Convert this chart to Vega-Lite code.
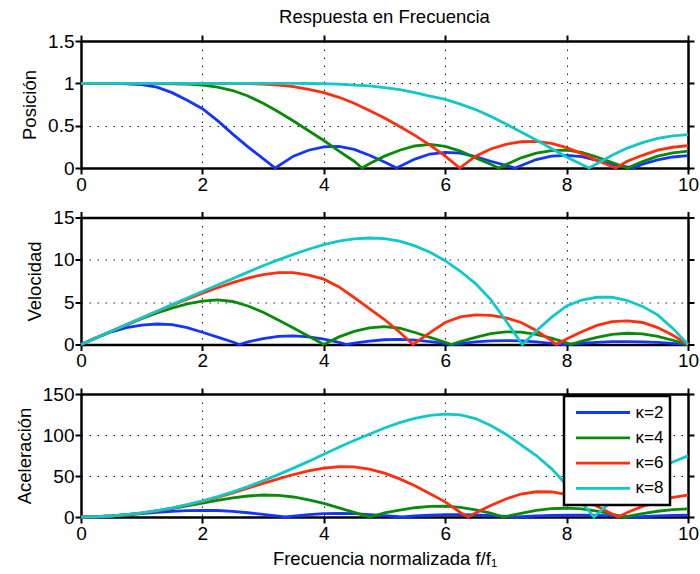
{
  "$schema": "https://vega.github.io/schema/vega-lite/v6.json",
  "bounds": "flush",
  "spacing": 49.5,
  "padding": {"left": 15, "top": 7, "right": 2, "bottom": 0},
  "config": {
    "font": "Liberation Sans",
    "view": {"stroke": null},
    "axis": {
      "domainColor": "black", "domainWidth": 2.5,
      "tickColor": "black", "tickWidth": 2, "tickSize": 6,
      "labelColor": "black", "labelFontSize": 19, "labelFont": "Liberation Sans", "labelPadding": 1,
      "labelFlush": false, "labelOverlap": false,
      "titleFont": "Liberation Sans", "titleFontSize": 18.5, "titleFontWeight": "normal", "titleColor": "black", "titlePadding": 8,
      "gridColor": "black", "gridDash": [1.5, 6.5], "gridWidth": 1, "gridOpacity": 0.9
    },
    "title": {"font": "Liberation Sans", "fontSize": 18.5, "fontWeight": "normal", "color": "black"},
    "legend": {"strokeWidth": 2.5}
  },
  "datasets": {
    "pos": [
      {"f":0,"y":1,"k":"κ=2"},{"f":0.25,"y":1,"k":"κ=2"},{"f":0.5,"y":1,"k":"κ=2"},{"f":0.75,"y":0.995,"k":"κ=2"},{"f":1,"y":0.985,"k":"κ=2"},{"f":1.25,"y":0.955,"k":"κ=2"},{"f":1.5,"y":0.89,"k":"κ=2"},{"f":1.75,"y":0.8,"k":"κ=2"},{"f":2,"y":0.7,"k":"κ=2"},{"f":2.25,"y":0.56,"k":"κ=2"},{"f":2.5,"y":0.4,"k":"κ=2"},{"f":2.75,"y":0.25,"k":"κ=2"},{"f":3,"y":0.11,"k":"κ=2"},{"f":3.2,"y":0,"k":"κ=2"},{"f":3.5,"y":0.14,"k":"κ=2"},{"f":3.75,"y":0.21,"k":"κ=2"},{"f":4,"y":0.25,"k":"κ=2"},{"f":4.25,"y":0.255,"k":"κ=2"},{"f":4.5,"y":0.22,"k":"κ=2"},{"f":4.75,"y":0.15,"k":"κ=2"},{"f":5,"y":0.07,"k":"κ=2"},{"f":5.2,"y":0,"k":"κ=2"},{"f":5.5,"y":0.105,"k":"κ=2"},{"f":5.75,"y":0.165,"k":"κ=2"},{"f":6,"y":0.185,"k":"κ=2"},{"f":6.25,"y":0.175,"k":"κ=2"},{"f":6.5,"y":0.135,"k":"κ=2"},{"f":6.75,"y":0.08,"k":"κ=2"},{"f":7,"y":0.03,"k":"κ=2"},{"f":7.15,"y":0,"k":"κ=2"},{"f":7.5,"y":0.1,"k":"κ=2"},{"f":7.75,"y":0.14,"k":"κ=2"},{"f":8,"y":0.15,"k":"κ=2"},{"f":8.25,"y":0.135,"k":"κ=2"},{"f":8.5,"y":0.09,"k":"κ=2"},{"f":8.75,"y":0.04,"k":"κ=2"},{"f":9.1,"y":0,"k":"κ=2"},{"f":9.25,"y":0.045,"k":"κ=2"},{"f":9.5,"y":0.095,"k":"κ=2"},{"f":9.75,"y":0.13,"k":"κ=2"},{"f":10,"y":0.146,"k":"κ=2"},

      {"f":0,"y":1,"k":"κ=4"},{"f":0.5,"y":1,"k":"κ=4"},{"f":1,"y":1,"k":"κ=4"},{"f":1.25,"y":0.998,"k":"κ=4"},{"f":1.5,"y":0.995,"k":"κ=4"},{"f":1.75,"y":0.99,"k":"κ=4"},{"f":2,"y":0.98,"k":"κ=4"},{"f":2.25,"y":0.955,"k":"κ=4"},{"f":2.5,"y":0.915,"k":"κ=4"},{"f":2.75,"y":0.85,"k":"κ=4"},{"f":3,"y":0.765,"k":"κ=4"},{"f":3.25,"y":0.665,"k":"κ=4"},{"f":3.5,"y":0.555,"k":"κ=4"},{"f":3.75,"y":0.44,"k":"κ=4"},{"f":4,"y":0.325,"k":"κ=4"},{"f":4.25,"y":0.2,"k":"κ=4"},{"f":4.5,"y":0.08,"k":"κ=4"},{"f":4.63,"y":0,"k":"κ=4"},{"f":4.75,"y":0.05,"k":"κ=4"},{"f":5,"y":0.14,"k":"κ=4"},{"f":5.25,"y":0.21,"k":"κ=4"},{"f":5.5,"y":0.26,"k":"κ=4"},{"f":5.75,"y":0.28,"k":"κ=4"},{"f":6,"y":0.255,"k":"κ=4"},{"f":6.25,"y":0.2,"k":"κ=4"},{"f":6.5,"y":0.12,"k":"κ=4"},{"f":6.75,"y":0.045,"k":"κ=4"},{"f":6.88,"y":0,"k":"κ=4"},{"f":7,"y":0.04,"k":"κ=4"},{"f":7.25,"y":0.12,"k":"κ=4"},{"f":7.5,"y":0.175,"k":"κ=4"},{"f":7.75,"y":0.205,"k":"κ=4"},{"f":8,"y":0.21,"k":"κ=4"},{"f":8.25,"y":0.185,"k":"κ=4"},{"f":8.5,"y":0.13,"k":"κ=4"},{"f":8.75,"y":0.065,"k":"κ=4"},{"f":9,"y":0,"k":"κ=4"},{"f":9.25,"y":0.075,"k":"κ=4"},{"f":9.5,"y":0.14,"k":"κ=4"},{"f":9.75,"y":0.18,"k":"κ=4"},{"f":10,"y":0.2,"k":"κ=4"},

      {"f":0,"y":1,"k":"κ=6"},{"f":1,"y":1,"k":"κ=6"},{"f":2,"y":1,"k":"κ=6"},{"f":2.5,"y":1,"k":"κ=6"},{"f":2.75,"y":0.998,"k":"κ=6"},{"f":3,"y":0.99,"k":"κ=6"},{"f":3.25,"y":0.978,"k":"κ=6"},{"f":3.5,"y":0.96,"k":"κ=6"},{"f":3.75,"y":0.93,"k":"κ=6"},{"f":4,"y":0.89,"k":"κ=6"},{"f":4.25,"y":0.835,"k":"κ=6"},{"f":4.5,"y":0.765,"k":"κ=6"},{"f":4.75,"y":0.68,"k":"κ=6"},{"f":5,"y":0.59,"k":"κ=6"},{"f":5.25,"y":0.49,"k":"κ=6"},{"f":5.5,"y":0.385,"k":"κ=6"},{"f":5.75,"y":0.27,"k":"κ=6"},{"f":6,"y":0.14,"k":"κ=6"},{"f":6.24,"y":0,"k":"κ=6"},{"f":6.5,"y":0.14,"k":"κ=6"},{"f":6.75,"y":0.225,"k":"κ=6"},{"f":7,"y":0.28,"k":"κ=6"},{"f":7.25,"y":0.31,"k":"κ=6"},{"f":7.5,"y":0.315,"k":"κ=6"},{"f":7.75,"y":0.29,"k":"κ=6"},{"f":8,"y":0.24,"k":"κ=6"},{"f":8.25,"y":0.17,"k":"κ=6"},{"f":8.5,"y":0.09,"k":"κ=6"},{"f":8.81,"y":0,"k":"κ=6"},{"f":9,"y":0.08,"k":"κ=6"},{"f":9.25,"y":0.15,"k":"κ=6"},{"f":9.5,"y":0.21,"k":"κ=6"},{"f":9.75,"y":0.245,"k":"κ=6"},{"f":10,"y":0.265,"k":"κ=6"},

      {"f":0,"y":1,"k":"κ=8"},{"f":1,"y":1,"k":"κ=8"},{"f":2,"y":1,"k":"κ=8"},{"f":3,"y":1,"k":"κ=8"},{"f":3.5,"y":1,"k":"κ=8"},{"f":3.75,"y":0.998,"k":"κ=8"},{"f":4,"y":0.995,"k":"κ=8"},{"f":4.25,"y":0.99,"k":"κ=8"},{"f":4.5,"y":0.98,"k":"κ=8"},{"f":4.75,"y":0.97,"k":"κ=8"},{"f":5,"y":0.95,"k":"κ=8"},{"f":5.25,"y":0.925,"k":"κ=8"},{"f":5.5,"y":0.89,"k":"κ=8"},{"f":5.75,"y":0.85,"k":"κ=8"},{"f":6,"y":0.81,"k":"κ=8"},{"f":6.25,"y":0.755,"k":"κ=8"},{"f":6.5,"y":0.69,"k":"κ=8"},{"f":6.75,"y":0.61,"k":"κ=8"},{"f":7,"y":0.52,"k":"κ=8"},{"f":7.25,"y":0.425,"k":"κ=8"},{"f":7.5,"y":0.33,"k":"κ=8"},{"f":7.75,"y":0.23,"k":"κ=8"},{"f":8,"y":0.13,"k":"κ=8"},{"f":8.25,"y":0.04,"k":"κ=8"},{"f":8.37,"y":0,"k":"κ=8"},{"f":8.5,"y":0.05,"k":"κ=8"},{"f":8.75,"y":0.15,"k":"κ=8"},{"f":9,"y":0.235,"k":"κ=8"},{"f":9.25,"y":0.3,"k":"κ=8"},{"f":9.5,"y":0.35,"k":"κ=8"},{"f":9.75,"y":0.38,"k":"κ=8"},{"f":10,"y":0.395,"k":"κ=8"}
    ],
    "vel": [
      {"f":0,"y":0,"k":"κ=2"},{"f":0.25,"y":0.78,"k":"κ=2"},{"f":0.5,"y":1.5,"k":"κ=2"},{"f":0.75,"y":2.0,"k":"κ=2"},{"f":1,"y":2.28,"k":"κ=2"},{"f":1.25,"y":2.42,"k":"κ=2"},{"f":1.5,"y":2.35,"k":"κ=2"},{"f":1.75,"y":2.0,"k":"κ=2"},{"f":2,"y":1.45,"k":"κ=2"},{"f":2.25,"y":0.88,"k":"κ=2"},{"f":2.5,"y":0.3,"k":"κ=2"},{"f":2.61,"y":0,"k":"κ=2"},{"f":2.75,"y":0.3,"k":"κ=2"},{"f":3,"y":0.7,"k":"κ=2"},{"f":3.25,"y":0.95,"k":"κ=2"},{"f":3.5,"y":1.02,"k":"κ=2"},{"f":3.75,"y":0.9,"k":"κ=2"},{"f":4,"y":0.63,"k":"κ=2"},{"f":4.25,"y":0.25,"k":"κ=2"},{"f":4.38,"y":0,"k":"κ=2"},{"f":4.5,"y":0.15,"k":"κ=2"},{"f":4.75,"y":0.4,"k":"κ=2"},{"f":5,"y":0.56,"k":"κ=2"},{"f":5.25,"y":0.6,"k":"κ=2"},{"f":5.5,"y":0.52,"k":"κ=2"},{"f":5.75,"y":0.35,"k":"κ=2"},{"f":6,"y":0.1,"k":"κ=2"},{"f":6.1,"y":0,"k":"κ=2"},{"f":6.25,"y":0.1,"k":"κ=2"},{"f":6.5,"y":0.3,"k":"κ=2"},{"f":6.75,"y":0.42,"k":"κ=2"},{"f":7,"y":0.46,"k":"κ=2"},{"f":7.25,"y":0.42,"k":"κ=2"},{"f":7.5,"y":0.3,"k":"κ=2"},{"f":7.75,"y":0.13,"k":"κ=2"},{"f":7.95,"y":0,"k":"κ=2"},{"f":8.25,"y":0.15,"k":"κ=2"},{"f":8.5,"y":0.26,"k":"κ=2"},{"f":8.75,"y":0.33,"k":"κ=2"},{"f":9,"y":0.35,"k":"κ=2"},{"f":9.25,"y":0.32,"k":"κ=2"},{"f":9.5,"y":0.24,"k":"κ=2"},{"f":9.75,"y":0.13,"k":"κ=2"},{"f":10,"y":0,"k":"κ=2"},

      {"f":0,"y":0,"k":"κ=4"},{"f":0.25,"y":0.785,"k":"κ=4"},{"f":0.5,"y":1.56,"k":"κ=4"},{"f":0.75,"y":2.32,"k":"κ=4"},{"f":1,"y":3.06,"k":"κ=4"},{"f":1.25,"y":3.72,"k":"κ=4"},{"f":1.5,"y":4.3,"k":"κ=4"},{"f":1.75,"y":4.8,"k":"κ=4"},{"f":2,"y":5.13,"k":"κ=4"},{"f":2.25,"y":5.27,"k":"κ=4"},{"f":2.5,"y":5.08,"k":"κ=4"},{"f":2.75,"y":4.55,"k":"κ=4"},{"f":3,"y":3.8,"k":"κ=4"},{"f":3.25,"y":2.9,"k":"κ=4"},{"f":3.5,"y":1.95,"k":"κ=4"},{"f":3.75,"y":0.98,"k":"κ=4"},{"f":4,"y":0,"k":"κ=4"},{"f":4.25,"y":0.9,"k":"κ=4"},{"f":4.5,"y":1.55,"k":"κ=4"},{"f":4.75,"y":1.97,"k":"κ=4"},{"f":5,"y":2.12,"k":"κ=4"},{"f":5.25,"y":1.92,"k":"κ=4"},{"f":5.5,"y":1.42,"k":"κ=4"},{"f":5.75,"y":0.85,"k":"κ=4"},{"f":6,"y":0.27,"k":"κ=4"},{"f":6.1,"y":0,"k":"κ=4"},{"f":6.25,"y":0.35,"k":"κ=4"},{"f":6.5,"y":0.85,"k":"κ=4"},{"f":6.75,"y":1.28,"k":"κ=4"},{"f":7,"y":1.5,"k":"κ=4"},{"f":7.25,"y":1.45,"k":"κ=4"},{"f":7.5,"y":1.2,"k":"κ=4"},{"f":7.75,"y":0.75,"k":"κ=4"},{"f":8,"y":0.2,"k":"κ=4"},{"f":8.07,"y":0,"k":"κ=4"},{"f":8.25,"y":0.4,"k":"κ=4"},{"f":8.5,"y":0.85,"k":"κ=4"},{"f":8.75,"y":1.2,"k":"κ=4"},{"f":9,"y":1.33,"k":"κ=4"},{"f":9.25,"y":1.25,"k":"κ=4"},{"f":9.5,"y":0.95,"k":"κ=4"},{"f":9.75,"y":0.5,"k":"κ=4"},{"f":10,"y":0,"k":"κ=4"},

      {"f":0,"y":0,"k":"κ=6"},{"f":0.25,"y":0.785,"k":"κ=6"},{"f":0.5,"y":1.57,"k":"κ=6"},{"f":0.75,"y":2.35,"k":"κ=6"},{"f":1,"y":3.13,"k":"κ=6"},{"f":1.25,"y":3.9,"k":"κ=6"},{"f":1.5,"y":4.65,"k":"κ=6"},{"f":1.75,"y":5.35,"k":"κ=6"},{"f":2,"y":6.05,"k":"κ=6"},{"f":2.25,"y":6.7,"k":"κ=6"},{"f":2.5,"y":7.3,"k":"κ=6"},{"f":2.75,"y":7.85,"k":"κ=6"},{"f":3,"y":8.25,"k":"κ=6"},{"f":3.25,"y":8.5,"k":"κ=6"},{"f":3.5,"y":8.48,"k":"κ=6"},{"f":3.75,"y":8.2,"k":"κ=6"},{"f":4,"y":7.72,"k":"κ=6"},{"f":4.25,"y":6.8,"k":"κ=6"},{"f":4.5,"y":5.55,"k":"κ=6"},{"f":4.75,"y":4.25,"k":"κ=6"},{"f":5,"y":2.95,"k":"κ=6"},{"f":5.25,"y":1.45,"k":"κ=6"},{"f":5.47,"y":0,"k":"κ=6"},{"f":5.75,"y":1.4,"k":"κ=6"},{"f":6,"y":2.6,"k":"κ=6"},{"f":6.25,"y":3.25,"k":"κ=6"},{"f":6.5,"y":3.5,"k":"κ=6"},{"f":6.75,"y":3.45,"k":"κ=6"},{"f":7,"y":3.15,"k":"κ=6"},{"f":7.25,"y":2.6,"k":"κ=6"},{"f":7.5,"y":1.65,"k":"κ=6"},{"f":7.75,"y":0.45,"k":"κ=6"},{"f":7.83,"y":0,"k":"κ=6"},{"f":8,"y":0.65,"k":"κ=6"},{"f":8.25,"y":1.5,"k":"κ=6"},{"f":8.5,"y":2.25,"k":"κ=6"},{"f":8.75,"y":2.7,"k":"κ=6"},{"f":9,"y":2.8,"k":"κ=6"},{"f":9.25,"y":2.6,"k":"κ=6"},{"f":9.5,"y":2.0,"k":"κ=6"},{"f":9.75,"y":1.1,"k":"κ=6"},{"f":10,"y":0,"k":"κ=6"},

      {"f":0,"y":0,"k":"κ=8"},{"f":0.25,"y":0.785,"k":"κ=8"},{"f":0.5,"y":1.57,"k":"κ=8"},{"f":0.75,"y":2.36,"k":"κ=8"},{"f":1,"y":3.14,"k":"κ=8"},{"f":1.25,"y":3.92,"k":"κ=8"},{"f":1.5,"y":4.71,"k":"κ=8"},{"f":1.75,"y":5.48,"k":"κ=8"},{"f":2,"y":6.25,"k":"κ=8"},{"f":2.25,"y":7.02,"k":"κ=8"},{"f":2.5,"y":7.78,"k":"κ=8"},{"f":2.75,"y":8.55,"k":"κ=8"},{"f":3,"y":9.3,"k":"κ=8"},{"f":3.25,"y":10.0,"k":"κ=8"},{"f":3.5,"y":10.65,"k":"κ=8"},{"f":3.75,"y":11.25,"k":"κ=8"},{"f":4,"y":11.8,"k":"κ=8"},{"f":4.25,"y":12.2,"k":"κ=8"},{"f":4.5,"y":12.48,"k":"κ=8"},{"f":4.75,"y":12.58,"k":"κ=8"},{"f":5,"y":12.5,"k":"κ=8"},{"f":5.25,"y":12.2,"k":"κ=8"},{"f":5.5,"y":11.65,"k":"κ=8"},{"f":5.75,"y":10.9,"k":"κ=8"},{"f":6,"y":9.9,"k":"κ=8"},{"f":6.25,"y":8.65,"k":"κ=8"},{"f":6.5,"y":7.2,"k":"κ=8"},{"f":6.75,"y":5.3,"k":"κ=8"},{"f":7,"y":2.8,"k":"κ=8"},{"f":7.27,"y":0,"k":"κ=8"},{"f":7.5,"y":1.6,"k":"κ=8"},{"f":7.75,"y":3.2,"k":"κ=8"},{"f":8,"y":4.55,"k":"κ=8"},{"f":8.25,"y":5.25,"k":"κ=8"},{"f":8.5,"y":5.58,"k":"κ=8"},{"f":8.75,"y":5.58,"k":"κ=8"},{"f":9,"y":5.2,"k":"κ=8"},{"f":9.25,"y":4.5,"k":"κ=8"},{"f":9.5,"y":3.5,"k":"κ=8"},{"f":9.75,"y":1.9,"k":"κ=8"},{"f":10,"y":0,"k":"κ=8"}
    ],
    "acc": [
      {"f":0,"y":0,"k":"κ=2"},{"f":0.25,"y":0.3,"k":"κ=2"},{"f":0.5,"y":1.2,"k":"κ=2"},{"f":0.75,"y":2.6,"k":"κ=2"},{"f":1,"y":4.2,"k":"κ=2"},{"f":1.25,"y":5.6,"k":"κ=2"},{"f":1.5,"y":6.8,"k":"κ=2"},{"f":1.75,"y":7.7,"k":"κ=2"},{"f":2,"y":8.1,"k":"κ=2"},{"f":2.25,"y":7.9,"k":"κ=2"},{"f":2.5,"y":6.9,"k":"κ=2"},{"f":2.75,"y":5.2,"k":"κ=2"},{"f":3,"y":3.1,"k":"κ=2"},{"f":3.25,"y":1.0,"k":"κ=2"},{"f":3.36,"y":0,"k":"κ=2"},{"f":3.5,"y":1.2,"k":"κ=2"},{"f":3.75,"y":3.0,"k":"κ=2"},{"f":4,"y":4.2,"k":"κ=2"},{"f":4.25,"y":4.5,"k":"κ=2"},{"f":4.5,"y":4.1,"k":"κ=2"},{"f":4.75,"y":3.0,"k":"κ=2"},{"f":5,"y":1.6,"k":"κ=2"},{"f":5.3,"y":0,"k":"κ=2"},{"f":5.5,"y":1.2,"k":"κ=2"},{"f":5.75,"y":2.3,"k":"κ=2"},{"f":6,"y":2.8,"k":"κ=2"},{"f":6.25,"y":2.9,"k":"κ=2"},{"f":6.5,"y":2.5,"k":"κ=2"},{"f":6.75,"y":1.7,"k":"κ=2"},{"f":7,"y":0.8,"k":"κ=2"},{"f":7.2,"y":0,"k":"κ=2"},{"f":7.5,"y":1.2,"k":"κ=2"},{"f":7.75,"y":2.0,"k":"κ=2"},{"f":8,"y":2.4,"k":"κ=2"},{"f":8.25,"y":2.4,"k":"κ=2"},{"f":8.5,"y":2.0,"k":"κ=2"},{"f":8.75,"y":1.3,"k":"κ=2"},{"f":9,"y":0.5,"k":"κ=2"},{"f":9.15,"y":0,"k":"κ=2"},{"f":9.5,"y":1.3,"k":"κ=2"},{"f":9.75,"y":1.9,"k":"κ=2"},{"f":10,"y":2.3,"k":"κ=2"},

      {"f":0,"y":0,"k":"κ=4"},{"f":0.25,"y":0.3,"k":"κ=4"},{"f":0.5,"y":1.23,"k":"κ=4"},{"f":0.75,"y":2.75,"k":"κ=4"},{"f":1,"y":4.85,"k":"κ=4"},{"f":1.25,"y":7.4,"k":"κ=4"},{"f":1.5,"y":10.3,"k":"κ=4"},{"f":1.75,"y":13.5,"k":"κ=4"},{"f":2,"y":16.9,"k":"κ=4"},{"f":2.25,"y":20.3,"k":"κ=4"},{"f":2.5,"y":23.4,"k":"κ=4"},{"f":2.75,"y":25.6,"k":"κ=4"},{"f":3,"y":26.8,"k":"κ=4"},{"f":3.25,"y":26.4,"k":"κ=4"},{"f":3.5,"y":24.4,"k":"κ=4"},{"f":3.75,"y":21.0,"k":"κ=4"},{"f":4,"y":16.5,"k":"κ=4"},{"f":4.25,"y":11.1,"k":"κ=4"},{"f":4.5,"y":5.6,"k":"κ=4"},{"f":4.76,"y":0,"k":"κ=4"},{"f":5,"y":5.0,"k":"κ=4"},{"f":5.25,"y":8.5,"k":"κ=4"},{"f":5.5,"y":11.3,"k":"κ=4"},{"f":5.75,"y":13.0,"k":"κ=4"},{"f":6,"y":13.3,"k":"κ=4"},{"f":6.25,"y":11.8,"k":"κ=4"},{"f":6.5,"y":8.8,"k":"κ=4"},{"f":6.75,"y":4.8,"k":"κ=4"},{"f":6.96,"y":0,"k":"κ=4"},{"f":7.25,"y":4.5,"k":"κ=4"},{"f":7.5,"y":8.0,"k":"κ=4"},{"f":7.75,"y":10.2,"k":"κ=4"},{"f":8,"y":10.7,"k":"κ=4"},{"f":8.25,"y":9.8,"k":"κ=4"},{"f":8.5,"y":7.3,"k":"κ=4"},{"f":8.75,"y":3.5,"k":"κ=4"},{"f":8.95,"y":0,"k":"κ=4"},{"f":9.25,"y":4.0,"k":"κ=4"},{"f":9.5,"y":7.0,"k":"κ=4"},{"f":9.75,"y":9.0,"k":"κ=4"},{"f":10,"y":10.0,"k":"κ=4"},

      {"f":0,"y":0,"k":"κ=6"},{"f":0.25,"y":0.31,"k":"κ=6"},{"f":0.5,"y":1.23,"k":"κ=6"},{"f":0.75,"y":2.77,"k":"κ=6"},{"f":1,"y":4.9,"k":"κ=6"},{"f":1.25,"y":7.6,"k":"κ=6"},{"f":1.5,"y":10.9,"k":"κ=6"},{"f":1.75,"y":14.7,"k":"κ=6"},{"f":2,"y":19.0,"k":"κ=6"},{"f":2.25,"y":23.8,"k":"κ=6"},{"f":2.5,"y":29.5,"k":"κ=6"},{"f":2.75,"y":35.2,"k":"κ=6"},{"f":3,"y":41.0,"k":"κ=6"},{"f":3.25,"y":46.5,"k":"κ=6"},{"f":3.5,"y":51.8,"k":"κ=6"},{"f":3.75,"y":56.3,"k":"κ=6"},{"f":4,"y":59.5,"k":"κ=6"},{"f":4.25,"y":61.3,"k":"κ=6"},{"f":4.5,"y":61.2,"k":"κ=6"},{"f":4.75,"y":58.5,"k":"κ=6"},{"f":5,"y":53.5,"k":"κ=6"},{"f":5.25,"y":46.5,"k":"κ=6"},{"f":5.5,"y":38.0,"k":"κ=6"},{"f":5.75,"y":28.5,"k":"κ=6"},{"f":6,"y":18.5,"k":"κ=6"},{"f":6.25,"y":5.5,"k":"κ=6"},{"f":6.38,"y":0,"k":"κ=6"},{"f":6.5,"y":5.0,"k":"κ=6"},{"f":6.75,"y":14.0,"k":"κ=6"},{"f":7,"y":22.0,"k":"κ=6"},{"f":7.25,"y":28.0,"k":"κ=6"},{"f":7.5,"y":30.8,"k":"κ=6"},{"f":7.75,"y":30.5,"k":"κ=6"},{"f":8,"y":27.6,"k":"κ=6"},{"f":8.25,"y":21.5,"k":"κ=6"},{"f":8.5,"y":13.0,"k":"κ=6"},{"f":8.75,"y":3.8,"k":"κ=6"},{"f":8.85,"y":0,"k":"κ=6"},{"f":9,"y":5.5,"k":"κ=6"},{"f":9.25,"y":13.0,"k":"κ=6"},{"f":9.5,"y":19.0,"k":"κ=6"},{"f":9.75,"y":23.8,"k":"κ=6"},{"f":10,"y":26.8,"k":"κ=6"},

      {"f":0,"y":0,"k":"κ=8"},{"f":0.25,"y":0.31,"k":"κ=8"},{"f":0.5,"y":1.23,"k":"κ=8"},{"f":0.75,"y":2.78,"k":"κ=8"},{"f":1,"y":4.93,"k":"κ=8"},{"f":1.25,"y":7.7,"k":"κ=8"},{"f":1.5,"y":11.1,"k":"κ=8"},{"f":1.75,"y":15.1,"k":"κ=8"},{"f":2,"y":19.7,"k":"κ=8"},{"f":2.25,"y":24.9,"k":"κ=8"},{"f":2.5,"y":30.7,"k":"κ=8"},{"f":2.75,"y":37.1,"k":"κ=8"},{"f":3,"y":44.2,"k":"κ=8"},{"f":3.25,"y":51.7,"k":"κ=8"},{"f":3.5,"y":59.6,"k":"κ=8"},{"f":3.75,"y":67.8,"k":"κ=8"},{"f":4,"y":76.5,"k":"κ=8"},{"f":4.25,"y":85.0,"k":"κ=8"},{"f":4.5,"y":93.2,"k":"κ=8"},{"f":4.75,"y":101.0,"k":"κ=8"},{"f":5,"y":108.5,"k":"κ=8"},{"f":5.25,"y":115.0,"k":"κ=8"},{"f":5.5,"y":120.3,"k":"κ=8"},{"f":5.75,"y":124.0,"k":"κ=8"},{"f":6,"y":125.5,"k":"κ=8"},{"f":6.25,"y":124.5,"k":"κ=8"},{"f":6.5,"y":120.0,"k":"κ=8"},{"f":6.75,"y":111.5,"k":"κ=8"},{"f":7,"y":101.0,"k":"κ=8"},{"f":7.25,"y":88.0,"k":"κ=8"},{"f":7.5,"y":75.0,"k":"κ=8"},{"f":7.75,"y":59.0,"k":"κ=8"},{"f":8,"y":39.0,"k":"κ=8"},{"f":8.25,"y":17.5,"k":"κ=8"},{"f":8.45,"y":0,"k":"κ=8"},{"f":8.5,"y":3.0,"k":"κ=8"},{"f":8.75,"y":20.0,"k":"κ=8"},{"f":9,"y":35.0,"k":"κ=8"},{"f":9.25,"y":48.0,"k":"κ=8"},{"f":9.5,"y":58.0,"k":"κ=8"},{"f":9.75,"y":67.0,"k":"κ=8"},{"f":10,"y":74.5,"k":"κ=8"}
    ]
  },
  "vconcat": [
    {
      "width": 607, "height": 127,
      "title": {"text": "Respuesta en Frecuencia", "offset": 6},
      "data": {"name": "pos"},
      "layer": [
        {
          "mark": {"type": "line", "strokeWidth": 2.8},
          "encoding": {
            "x": {"field": "f", "type": "quantitative", "scale": {"domain": [0, 10], "nice": false},
                  "axis": {"orient": "bottom", "values": [0, 2, 4, 6, 8, 10], "title": null, "grid": true}},
            "y": {"field": "y", "type": "quantitative", "scale": {"domain": [0, 1.5], "nice": false},
                  "axis": {"orient": "left", "values": [0, 0.5, 1, 1.5], "format": "~g", "title": "Posición", "grid": true}},
            "color": {"field": "k", "type": "nominal",
                      "scale": {"domain": ["κ=2", "κ=4", "κ=6", "κ=8"], "range": ["#1435ff", "#0a8a0a", "#ff2e0f", "#10c8c8"]},
                      "legend": null}
          }
        },
        {
          "mark": {"type": "point", "opacity": 0},
          "encoding": {
            "x": {"field": "f", "type": "quantitative", "scale": {"domain": [0, 10], "nice": false},
                  "axis": {"orient": "top", "values": [0, 2, 4, 6, 8, 10], "labels": false, "title": null, "grid": false}},
            "y": {"field": "y", "type": "quantitative", "scale": {"domain": [0, 1.5], "nice": false},
                  "axis": {"orient": "right", "values": [0, 0.5, 1, 1.5], "labels": false, "title": null, "grid": false}}
          }
        }
      ],
      "resolve": {"axis": {"x": "independent", "y": "independent"}}
    },
    {
      "width": 607, "height": 127,
      "data": {"name": "vel"},
      "layer": [
        {
          "mark": {"type": "line", "strokeWidth": 2.8},
          "encoding": {
            "x": {"field": "f", "type": "quantitative", "scale": {"domain": [0, 10], "nice": false},
                  "axis": {"orient": "bottom", "values": [0, 2, 4, 6, 8, 10], "title": null, "grid": true}},
            "y": {"field": "y", "type": "quantitative", "scale": {"domain": [0, 15], "nice": false},
                  "axis": {"orient": "left", "values": [0, 5, 10, 15], "title": "Velocidad", "grid": true}},
            "color": {"field": "k", "type": "nominal",
                      "scale": {"domain": ["κ=2", "κ=4", "κ=6", "κ=8"], "range": ["#1435ff", "#0a8a0a", "#ff2e0f", "#10c8c8"]},
                      "legend": null}
          }
        },
        {
          "mark": {"type": "point", "opacity": 0},
          "encoding": {
            "x": {"field": "f", "type": "quantitative", "scale": {"domain": [0, 10], "nice": false},
                  "axis": {"orient": "top", "values": [0, 2, 4, 6, 8, 10], "labels": false, "title": null, "grid": false}},
            "y": {"field": "y", "type": "quantitative", "scale": {"domain": [0, 15], "nice": false},
                  "axis": {"orient": "right", "values": [0, 5, 10, 15], "labels": false, "title": null, "grid": false}}
          }
        }
      ],
      "resolve": {"axis": {"x": "independent", "y": "independent"}}
    },
    {
      "width": 607, "height": 123,
      "data": {"name": "acc"},
      "layer": [
        {
          "mark": {"type": "line", "strokeWidth": 2.8},
          "encoding": {
            "x": {"field": "f", "type": "quantitative", "scale": {"domain": [0, 10], "nice": false},
                  "axis": {"orient": "bottom", "values": [0, 2, 4, 6, 8, 10], "title": "Frecuencia normalizada f/f₁", "titlePadding": 6, "grid": true}},
            "y": {"field": "y", "type": "quantitative", "scale": {"domain": [0, 150], "nice": false},
                  "axis": {"orient": "left", "values": [0, 50, 100, 150], "title": "Aceleración", "grid": true}},
            "color": {"field": "k", "type": "nominal",
                      "scale": {"domain": ["κ=2", "κ=4", "κ=6", "κ=8"], "range": ["#1435ff", "#0a8a0a", "#ff2e0f", "#10c8c8"]},
                      "legend": {"orient": "none", "legendX": 483, "legendY": 2, "title": null,
                                 "symbolType": "stroke", "symbolSize": 2916, "symbolStrokeWidth": 2.8,
                                 "labelFontSize": 17, "labelFont": "Liberation Sans", "labelColor": "black", "labelOffset": 4,
                                 "padding": 6.5, "clipHeight": 20, "rowPadding": 5.3, "symbolOffset": 4,
                                 "strokeColor": "black", "fillColor": "white"}}
          }
        },
        {
          "mark": {"type": "point", "opacity": 0},
          "encoding": {
            "x": {"field": "f", "type": "quantitative", "scale": {"domain": [0, 10], "nice": false},
                  "axis": {"orient": "top", "values": [0, 2, 4, 6, 8, 10], "labels": false, "title": null, "grid": false}},
            "y": {"field": "y", "type": "quantitative", "scale": {"domain": [0, 150], "nice": false},
                  "axis": {"orient": "right", "values": [0, 50, 100, 150], "labels": false, "title": null, "grid": false}}
          }
        }
      ],
      "resolve": {"axis": {"x": "independent", "y": "independent"}}
    }
  ],
  "resolve": {"scale": {"color": "independent"}, "legend": {"color": "independent"}}
}
